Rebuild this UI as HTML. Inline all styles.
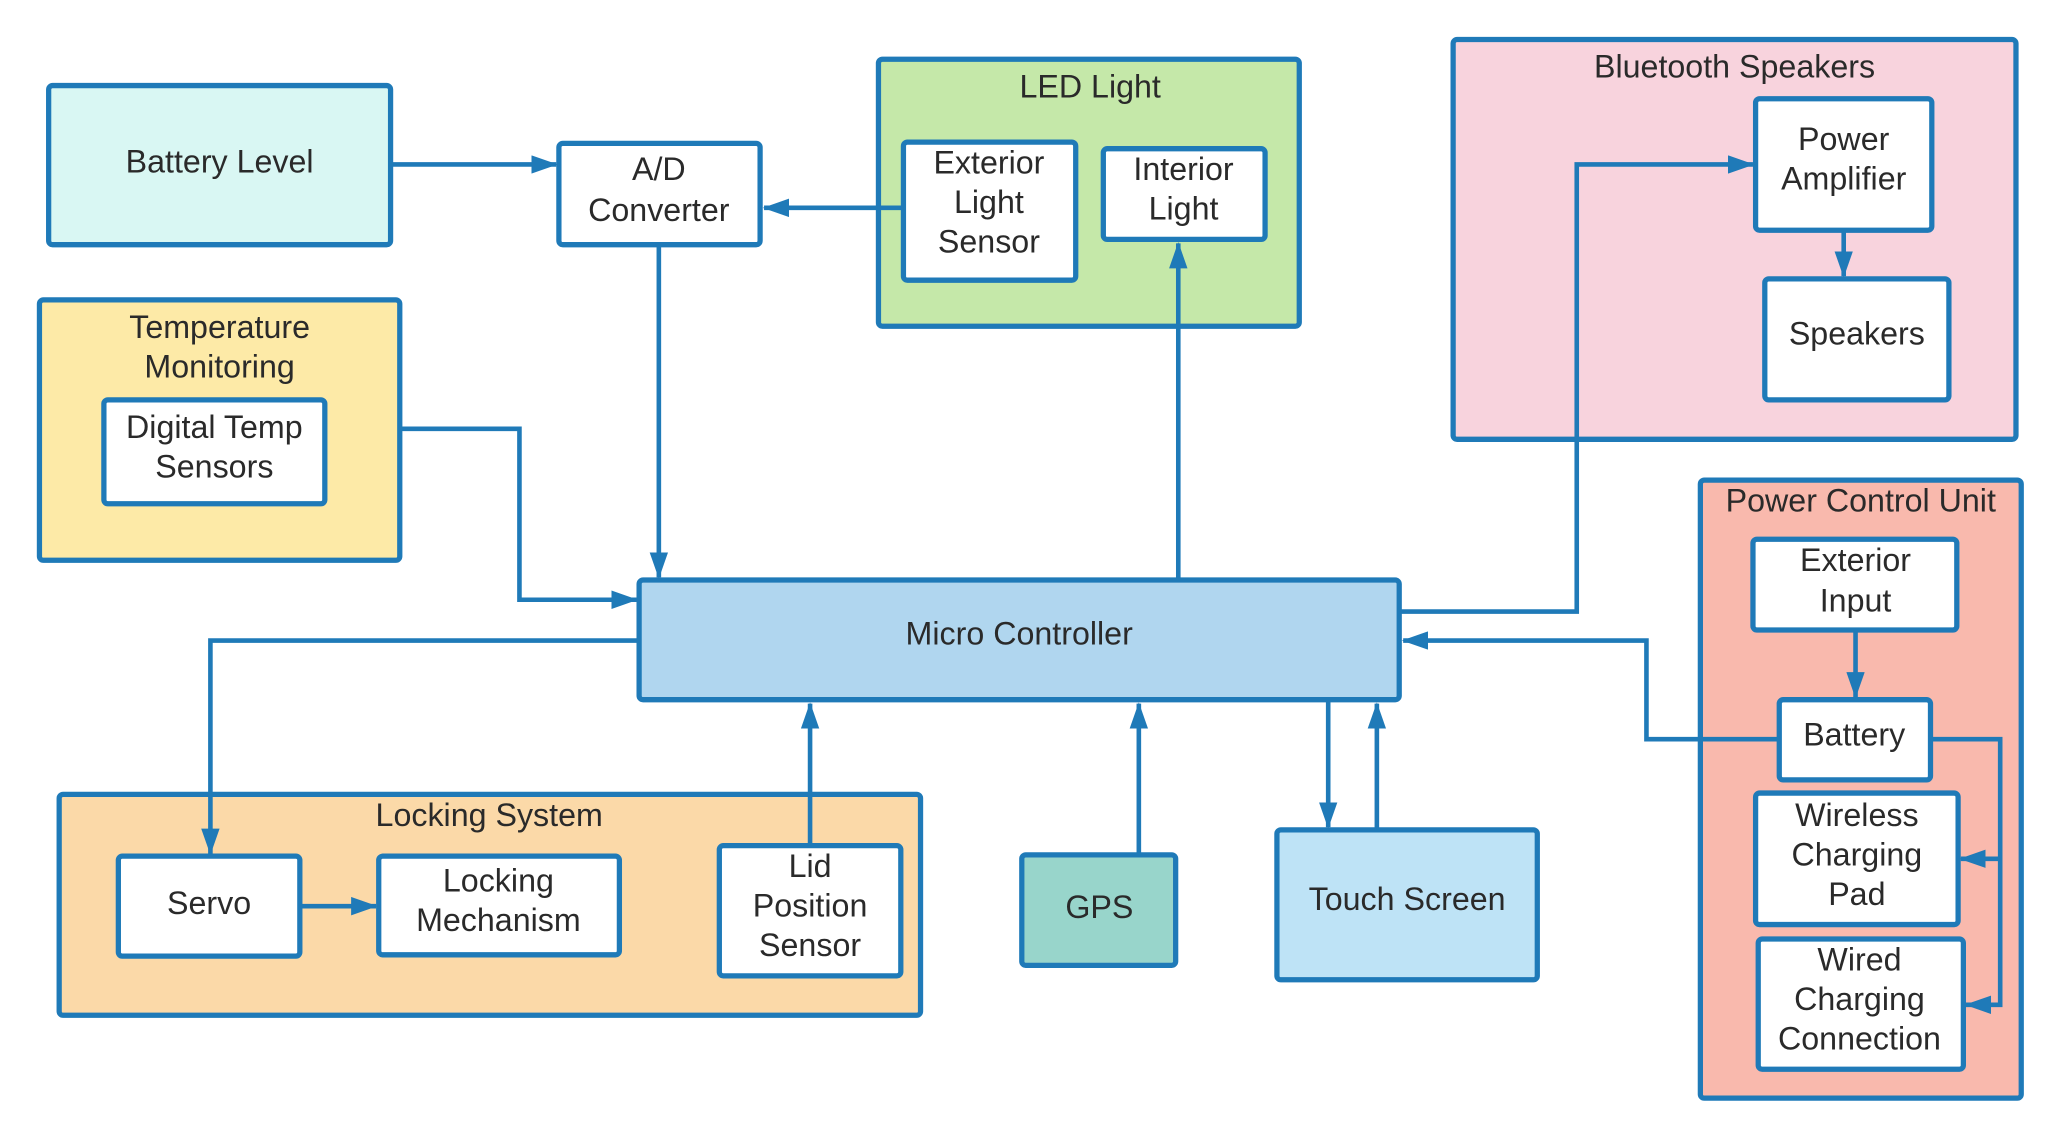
<!DOCTYPE html>
<html><head><meta charset="utf-8"><style>
html,body{margin:0;padding:0;background:#fff;}
svg{display:block;}
text{font-family:"Liberation Sans",sans-serif;font-size:24.5px;fill:#2a2a2a;text-anchor:middle;}
.b{stroke:#1f7ab8;stroke-width:4;}
.l{stroke:#1f7ab8;stroke-width:3.5;fill:none;}
</style></head><body>
<svg width="2062" height="1139" viewBox="0 0 1568 866" xmlns="http://www.w3.org/2000/svg">
<defs>
<marker id="m" viewBox="0 0 20 14" refX="19" refY="7" markerWidth="20" markerHeight="14" orient="auto" markerUnits="userSpaceOnUse"><path d="M0,0 L20,7 L0,14 z" fill="#1f7ab8"/></marker></defs>
<rect x="0" y="0" width="1568" height="866" fill="#fff"/>
<rect class="b" x="37" y="65" width="260" height="121" rx="3" fill="#d9f7f3"/>
<text x="167" y="131">Battery Level</text>
<rect class="b" x="668" y="45" width="320" height="203" rx="3" fill="#c5e8a9"/>
<text x="829" y="74">LED Light</text>
<rect class="b" x="1105" y="30" width="428" height="304" rx="3" fill="#f8d3dd"/>
<text x="1319" y="59">Bluetooth Speakers</text>
<rect class="b" x="30" y="228" width="274" height="198" rx="3" fill="#fdeaa7"/>
<text x="167" y="257">Temperature</text><text x="167" y="287">Monitoring</text>
<rect class="b" x="1293" y="365" width="244" height="470" rx="3" fill="#f9b9ad"/>
<text x="1415" y="389">Power Control Unit</text>
<rect class="b" x="45" y="604" width="655" height="168" rx="3" fill="#fbd9a8"/>
<text x="372" y="628">Locking System</text>
<rect class="b" x="486" y="441" width="578" height="91" rx="3" fill="#b0d6ef"/>
<text x="775" y="490">Micro Controller</text>
<rect class="b" x="777" y="650" width="117" height="84" rx="3" fill="#98d5cb"/>
<text x="836" y="698">GPS</text>
<rect class="b" x="971" y="631" width="198" height="114" rx="3" fill="#bee3f6"/>
<text x="1070" y="692">Touch Screen</text>
<g fill="#fff">
<rect class="b" x="425" y="109" width="153" height="77" rx="3"/>
<rect class="b" x="687" y="108" width="131" height="105" rx="3"/>
<rect class="b" x="839" y="113" width="123" height="69" rx="3"/>
<rect class="b" x="1335" y="75" width="134" height="100" rx="3"/>
<rect class="b" x="1342" y="212" width="140" height="92" rx="3"/>
<rect class="b" x="79" y="304" width="168" height="79" rx="3"/>
<rect class="b" x="1333" y="410" width="155" height="69" rx="3"/>
<rect class="b" x="1353" y="532" width="115" height="61" rx="3"/>
<rect class="b" x="1335" y="603" width="154" height="100" rx="3"/>
<rect class="b" x="1337" y="714" width="156" height="99" rx="3"/>
<rect class="b" x="90" y="651" width="138" height="76" rx="3"/>
<rect class="b" x="288" y="651" width="183" height="75" rx="3"/>
<rect class="b" x="547" y="643" width="138" height="99" rx="3"/>
</g>
<text x="501" y="137">A/D</text><text x="501" y="168">Converter</text>
<text x="752" y="132">Exterior</text><text x="752" y="162">Light</text><text x="752" y="192">Sensor</text>
<text x="900" y="137">Interior</text><text x="900" y="167">Light</text>
<text x="1402" y="114">Power</text><text x="1402" y="144">Amplifier</text>
<text x="1412" y="262">Speakers</text>
<text x="163" y="333">Digital Temp</text><text x="163" y="363">Sensors</text>
<text x="1411" y="434">Exterior</text><text x="1411" y="465">Input</text>
<text x="1410" y="567">Battery</text>
<text x="1412" y="628">Wireless</text><text x="1412" y="658">Charging</text><text x="1412" y="688">Pad</text>
<text x="1414" y="738">Wired</text><text x="1414" y="768">Charging</text><text x="1414" y="798">Connection</text>
<text x="159" y="695">Servo</text>
<text x="379" y="678">Locking</text><text x="379" y="708">Mechanism</text>
<text x="616" y="667">Lid</text><text x="616" y="697">Position</text><text x="616" y="727">Sensor</text>
<g class="l">
<path d="M297,125 H423" marker-end="url(#m)"/>
<path d="M687,158 H581" marker-end="url(#m)"/>
<path d="M501,186 V439" marker-end="url(#m)"/>
<path d="M896,441 V185" marker-end="url(#m)"/>
<path d="M304,326 H395 V456 H484" marker-end="url(#m)"/>
<path d="M486,487 H160 V649" marker-end="url(#m)"/>
<path d="M228,689 H286" marker-end="url(#m)"/>
<path d="M616,643 V535" marker-end="url(#m)"/>
<path d="M866,650 V535" marker-end="url(#m)"/>
<path d="M1010,532 V629" marker-end="url(#m)"/>
<path d="M1047,631 V535" marker-end="url(#m)"/>
<path d="M1064,465 H1199 V125 H1333" marker-end="url(#m)"/>
<path d="M1402,175 V210" marker-end="url(#m)"/>
<path d="M1353,562 H1252 V487 H1067" marker-end="url(#m)"/>
<path d="M1411,479 V530" marker-end="url(#m)"/>
<path d="M1468,562 H1521 V764 H1495" marker-end="url(#m)"/>
<path d="M1521,653 H1491" marker-end="url(#m)"/>
</g>
</svg>
</body></html>
